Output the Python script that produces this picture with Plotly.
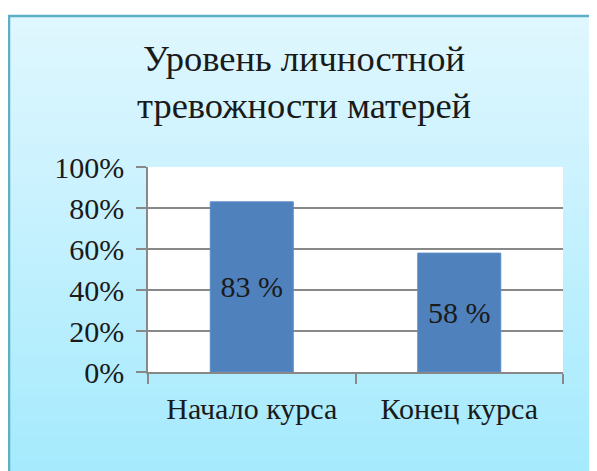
import base64
import struct
import zlib

import plotly.graph_objects as go

# ---- data ----
categories = ["Начало курса", "Конец курса"]
values = [0.83, 0.58]
value_labels = ["83 %", "58 %"]
tick_vals = [0, 0.2, 0.4, 0.6, 0.8, 1.0]
tick_text = ["0%", "20%", "40%", "60%", "80%", "100%"]
title_text = "Уровень личностной<br>тревожности матерей"

# ---- geometry (page pixels; page body has an 8px margin) ----
OFF = 8
W, H = 597 - OFF, 471 - OFF
L, R, T, B = 148 - OFF, 563 - OFF, 167 - OFF, 372 - OFF
pw, ph = R - L, B - T


def px_x(px):
    return (px - OFF - L) / pw


def px_y(py):
    return (B - (py - OFF)) / ph


def gradient_png(top, bottom, h=64):
    raw = b""
    for i in range(h):
        t = i / (h - 1)
        c = bytes(round(top[k] + (bottom[k] - top[k]) * t) for k in range(3))
        raw += b"\x00" + c

    def chunk(tag, data):
        return struct.pack(">I", len(data)) + tag + data + struct.pack(">I", zlib.crc32(tag + data) & 0xFFFFFFFF)

    png = b"\x89PNG\r\n\x1a\n"
    png += chunk(b"IHDR", struct.pack(">IIBBBBB", 1, h, 8, 2, 0, 0, 0))
    png += chunk(b"IDAT", zlib.compress(raw))
    png += chunk(b"IEND", b"")
    return "data:image/png;base64," + base64.b64encode(png).decode()


FONT = "Liberation Serif"
TXT = "#1a1a1a"
GRID = "#888888"

fig = go.Figure(
    go.Bar(
        x=categories,
        y=values,
        text=value_labels,
        textposition="inside",
        insidetextanchor="middle",
        textangle=0,
        textfont=dict(family=FONT, size=30, color=TXT),
        marker=dict(color="#4F81BD", line=dict(color="#5a8cc8", width=1)),
        width=0.4,
        hoverinfo="skip",
    )
)

fig.update_layout(
    width=W,
    height=H,
    margin=dict(l=L, r=W - R, t=T, b=H - B, pad=0),
    paper_bgcolor="white",
    plot_bgcolor="white",
    showlegend=False,
    images=[
        dict(
            source=gradient_png((224, 247, 254), (160, 233, 253)),
            xref="paper",
            yref="paper",
            x=px_x(8),
            y=px_y(15),
            sizex=(W + 40) / pw,
            sizey=(H + 40) / ph,
            xanchor="left",
            yanchor="top",
            sizing="stretch",
            layer="below",
        )
    ],
    shapes=[
        dict(type="rect", xref="paper", yref="paper", x0=0, x1=1, y0=0, y1=1,
             fillcolor="white", line=dict(width=0), layer="below"),
        dict(type="rect", xref="paper", yref="paper",
             x0=px_x(9), x1=px_x(W + 60), y0=px_y(16), y1=px_y(H + 60),
             fillcolor="rgba(0,0,0,0)", line=dict(color="#5cb0c6", width=2.5), layer="below"),
    ],
    annotations=[
        dict(
            text=title_text,
            xref="paper",
            yref="paper",
            x=px_x(304),
            y=px_y(82),
            xanchor="center",
            yanchor="middle",
            showarrow=False,
            font=dict(family=FONT, size=36.5, color=TXT),
        )
    ],
    bargap=0.6,
)

fig.update_yaxes(
    range=[0, 1],
    tickvals=tick_vals,
    ticktext=tick_text,
    showgrid=True,
    gridcolor=GRID,
    gridwidth=1.5,
    ticks="outside",
    ticklen=10,
    tickcolor=GRID,
    tickwidth=1.5,
    showline=True,
    linecolor=GRID,
    linewidth=1.5,
    zeroline=False,
    ticklabelstandoff=6,
    tickfont=dict(family=FONT, size=30, color=TXT),
    fixedrange=True,
)
fig.update_xaxes(
    showgrid=False,
    ticks="outside",
    tickson="boundaries",
    ticklen=10,
    tickcolor=GRID,
    tickwidth=1.5,
    showline=True,
    linecolor=GRID,
    linewidth=1.5,
    ticklabelstandoff=9,
    tickfont=dict(family=FONT, size=30, color=TXT),
    fixedrange=True,
)

fig.write_html("out.html")
